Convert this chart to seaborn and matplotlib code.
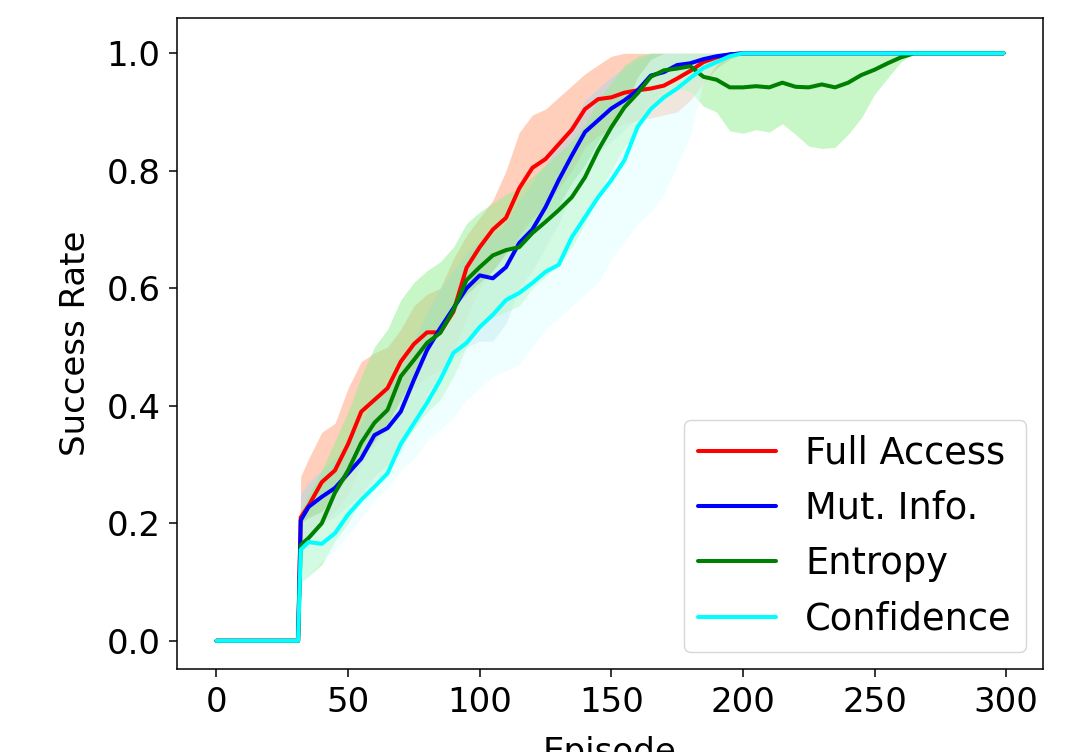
import matplotlib
matplotlib.use("Agg")
import matplotlib.pyplot as plt
import seaborn as sns
import pandas as pd

# episode grid the values were read at
episodes = [0, 31, 32, 35, 40, 45, 50, 55, 60, 65, 70, 75, 80, 85, 90, 95, 100,
            105, 110, 115, 120, 125, 130, 135, 140, 145, 150, 155, 160, 165, 170,
            175, 180, 185, 190, 195, 200, 205, 210, 215, 220, 225, 230, 235, 240,
            245, 250, 255, 260, 265, 299]

ONES = [1.0] * 14  # 205 .. 299, curves already at 1.0

full_mean = [0, 0, 0.21, 0.23, 0.27, 0.29, 0.335, 0.39, 0.41, 0.43, 0.475, 0.505,
             0.525, 0.525, 0.56, 0.635, 0.67, 0.70, 0.72, 0.77, 0.805, 0.82, 0.845,
             0.87, 0.905, 0.922, 0.925, 0.933, 0.937, 0.94, 0.945, 0.957, 0.97,
             0.985, 0.993, 0.998, 1.0] + ONES
full_lo = [0, 0, 0.15, 0.17, 0.20, 0.22, 0.25, 0.30, 0.33, 0.36, 0.40, 0.43, 0.45,
           0.46, 0.49, 0.55, 0.60, 0.63, 0.65, 0.69, 0.72, 0.74, 0.77, 0.80, 0.84,
           0.86, 0.87, 0.88, 0.885, 0.89, 0.895, 0.90, 0.92, 0.95, 0.975, 0.99, 1.0] + ONES
full_hi = [0, 0, 0.28, 0.31, 0.355, 0.37, 0.43, 0.475, 0.49, 0.50, 0.53, 0.57, 0.59,
           0.60, 0.65, 0.69, 0.72, 0.75, 0.80, 0.865, 0.895, 0.905, 0.925, 0.945,
           0.965, 0.98, 0.995, 1.0, 1.0, 1.0, 1.0, 1.0, 1.0, 1.0, 1.0, 1.0, 1.0] + ONES

mut_mean = [0, 0, 0.205, 0.228, 0.245, 0.26, 0.285, 0.31, 0.35, 0.362, 0.39, 0.444,
            0.495, 0.532, 0.566, 0.60, 0.622, 0.617, 0.636, 0.677, 0.70, 0.738,
            0.784, 0.826, 0.866, 0.886, 0.906, 0.92, 0.937, 0.962, 0.968, 0.98,
            0.983, 0.99, 0.995, 0.998, 1.0] + ONES
mut_lo = [0, 0, 0.16, 0.18, 0.20, 0.21, 0.23, 0.25, 0.28, 0.30, 0.32, 0.37, 0.42,
          0.45, 0.48, 0.50, 0.51, 0.51, 0.54, 0.60, 0.63, 0.67, 0.71, 0.76, 0.80,
          0.83, 0.85, 0.87, 0.89, 0.92, 0.94, 0.96, 0.97, 0.98, 0.99, 1.0, 1.0] + ONES
mut_hi = [0, 0, 0.25, 0.27, 0.29, 0.31, 0.34, 0.37, 0.41, 0.43, 0.46, 0.51, 0.56,
          0.60, 0.63, 0.66, 0.68, 0.69, 0.71, 0.75, 0.78, 0.81, 0.85, 0.88, 0.92,
          0.94, 0.96, 0.975, 0.99, 1.0, 1.0, 1.0, 1.0, 1.0, 1.0, 1.0, 1.0] + ONES

ent_mean = [0, 0, 0.163, 0.175, 0.20, 0.252, 0.29, 0.337, 0.371, 0.393, 0.45, 0.478,
            0.507, 0.524, 0.563, 0.614, 0.636, 0.656, 0.665, 0.67, 0.694, 0.713,
            0.733, 0.755, 0.789, 0.835, 0.874, 0.908, 0.932, 0.96, 0.971, 0.974,
            0.978, 0.96, 0.955, 0.942, 0.942, 0.944, 0.942, 0.95, 0.943, 0.942,
            0.947, 0.942, 0.95, 0.963, 0.972, 0.983, 0.993, 1.0, 1.0]
ent_lo = [0, 0, 0.10, 0.11, 0.13, 0.17, 0.20, 0.24, 0.27, 0.29, 0.33, 0.36, 0.39,
          0.41, 0.45, 0.50, 0.53, 0.55, 0.56, 0.57, 0.60, 0.62, 0.64, 0.67, 0.71,
          0.76, 0.80, 0.84, 0.87, 0.91, 0.93, 0.94, 0.935, 0.91, 0.90, 0.868,
          0.864, 0.87, 0.866, 0.88, 0.862, 0.842, 0.838, 0.84, 0.862, 0.89, 0.93,
          0.958, 0.985, 1.0, 1.0]
ent_hi = [0, 0, 0.22, 0.25, 0.29, 0.34, 0.39, 0.45, 0.50, 0.53, 0.58, 0.61, 0.63,
          0.645, 0.67, 0.71, 0.73, 0.745, 0.76, 0.77, 0.79, 0.81, 0.83, 0.85, 0.88,
          0.92, 0.95, 0.98, 0.995] + [1.0] * 22

conf_mean = [0, 0, 0.155, 0.168, 0.165, 0.183, 0.215, 0.24, 0.262, 0.285, 0.335,
             0.37, 0.405, 0.444, 0.49, 0.507, 0.534, 0.555, 0.58, 0.592, 0.609,
             0.628, 0.64, 0.687, 0.721, 0.755, 0.784, 0.818, 0.875, 0.905, 0.925,
             0.94, 0.958, 0.975, 0.985, 0.995, 1.0] + ONES
conf_lo = [0, 0, 0.10, 0.11, 0.135, 0.155, 0.18, 0.21, 0.24, 0.26, 0.29, 0.31, 0.34,
           0.36, 0.38, 0.41, 0.43, 0.45, 0.46, 0.47, 0.50, 0.53, 0.55, 0.57, 0.59,
           0.61, 0.65, 0.68, 0.71, 0.73, 0.76, 0.81, 0.86, 0.95, 0.98, 1.0, 1.0] + ONES
conf_hi = [0, 0, 0.20, 0.21, 0.22, 0.25, 0.28, 0.31, 0.34, 0.37, 0.41, 0.45, 0.49,
           0.53, 0.57, 0.59, 0.61, 0.63, 0.66, 0.68, 0.70, 0.72, 0.74, 0.78, 0.81,
           0.85, 0.88, 0.91, 0.96, 0.99, 1.0, 1.0, 1.0, 1.0, 1.0, 1.0, 1.0] + ONES

methods = ["Full Access", "Mut. Info.", "Entropy", "Confidence"]
line_colors = ["red", "blue", "green", "cyan"]
band_colors = ["lightsalmon", "lightblue", "lightgreen", "lightcyan"]

means = [full_mean, mut_mean, ent_mean, conf_mean]
lows = [full_lo, mut_lo, ent_lo, conf_lo]
highs = [full_hi, mut_hi, ent_hi, conf_hi]

rows = []
for name, m, lo, hi in zip(methods, means, lows, highs):
    for ep, v, l, h in zip(episodes, m, lo, hi):
        rows.append({"Episode": ep, "Success Rate": v, "lo": l, "hi": h, "Method": name})
df = pd.DataFrame(rows)

sns.set_style("white")
plt.rcParams["font.family"] = ["DejaVu Sans"]
plt.rcParams.update({
    "font.size": 24.5,
    "text.color": "black",
    "axes.labelcolor": "black",
    "xtick.color": "black",
    "ytick.color": "black",
    "axes.edgecolor": "black",
    "axes.linewidth": 1.1,
    "xtick.major.size": 5.5,
    "ytick.major.size": 5.5,
    "xtick.major.width": 1.1,
    "ytick.major.width": 1.1,
    "xtick.major.pad": 7,
    "ytick.major.pad": 6.5,
    "xtick.bottom": True,
    "ytick.left": True,
})

fig = plt.figure(figsize=(10.78, 7.52), dpi=100)
ax = fig.add_axes([0.1642, 0.1104, 0.8033, 0.8656])

for name, band in zip(methods, band_colors):
    d = df[df["Method"] == name]
    ax.fill_between(d["Episode"], d["lo"], d["hi"], color=band, alpha=0.5, linewidth=0)

sns.lineplot(data=df, x="Episode", y="Success Rate", hue="Method",
             hue_order=methods, palette=line_colors, linewidth=2.9,
             estimator=None, ax=ax)

ax.set_xlim(-15, 314)
ax.set_ylim(-0.048, 1.06)
ax.set_xticks([0, 50, 100, 150, 200, 250, 300])
ax.set_yticks([0.0, 0.2, 0.4, 0.6, 0.8, 1.0])
ax.set_xlabel("Episode", labelpad=12)
ax.set_ylabel("Success Rate", labelpad=10.5)
ax.legend(title=None, loc="lower right", fontsize=26.5, handlelength=2.1,
          framealpha=0.8, edgecolor="0.8", borderaxespad=0.45)

fig.savefig("out.png", dpi=100)
